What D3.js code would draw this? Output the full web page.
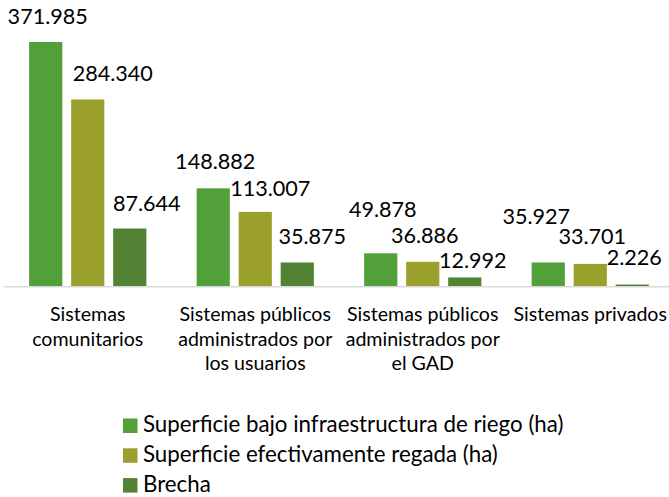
<!DOCTYPE html>
<html>
<head>
<meta charset="utf-8">
<script src="https://cdn.jsdelivr.net/npm/d3@7"></script>
<style>
  body { margin: 0; background: #fff; }
  text { font-family: Lato, "Open Sans", sans-serif; fill: #000; }
</style>
</head>
<body>
<svg id="chart"></svg>
<script>
const categories = [
  'Sistemas comunitarios',
  'Sistemas públicos administrados por los usuarios',
  'Sistemas públicos administrados por el GAD',
  'Sistemas privados'
];
// wrapped category labels, as they appear under the axis
const categoryLines = [
  ['Sistemas', 'comunitarios'],
  ['Sistemas públicos', 'administrados por', 'los usuarios'],
  ['Sistemas públicos', 'administrados por', 'el GAD'],
  ['Sistemas privados']
];
const series = [
  'Superficie bajo infraestructura de riego (ha)',
  'Superficie efectivamente regada (ha)',
  'Brecha'
];
const infraestructura = [371.985, 148.882, 49.878, 35.927];
const regada = [284.340, 113.007, 36.886, 33.701];
const brecha = [87.644, 35.875, 12.992, 2.226];
const values = [infraestructura, regada, brecha];

// labels were hand-moved in the original, [dx, dy] from bar centre / top
const labelNudge = [
  [[2, -18], [25, -18], [17, -18]],
  [[2, -19], [15, -16], [15, -18]],
  [[2, -36], [2, -19], [8, -9]],
  [[-12, -38], [2, -20], [2, -20]]
];

const colors = ['#52a03a', '#9aa02b', '#548235'];

const width = 669, height = 497;
const svg = d3.select('#chart').attr('width', width).attr('height', height);

const x0 = d3.scaleBand()
  .domain(categories)
  .range([4, 674])
  .paddingInner(0.3)
  .paddingOuter(0.15);

const x1 = d3.scaleBand()
  .domain(d3.range(series.length))
  .range([0, x0.bandwidth()])
  .paddingInner(0.21);

const y = d3.scaleLinear().domain([0, 400]).range([286, 23.6]);

const groups = svg.selectAll('g.group')
  .data(categories)
  .join('g')
  .attr('class', 'group')
  .attr('transform', d => 'translate(' + x0(d) + ',0)');

const bars = groups.selectAll('g.bar')
  .data((c, i) => series.map((s, j) => ({ s: j, c: i, v: values[j][i] })))
  .join('g')
  .attr('class', 'bar');

bars.append('rect')
  .attr('x', d => x1(d.s))
  .attr('y', d => y(d.v))
  .attr('width', x1.bandwidth())
  .attr('height', d => y(0) - y(d.v))
  .attr('fill', d => colors[d.s]);

bars.append('text')
  .attr('x', d => x1(d.s) + x1.bandwidth() / 2 + labelNudge[d.c][d.s][0])
  .attr('y', d => y(d.v) + labelNudge[d.c][d.s][1])
  .attr('text-anchor', 'middle')
  .attr('font-size', '21.6px')
  .text(d => d3.format(',.3f')(d.v).replace(/,/g, ''));

// axis baseline
svg.append('line')
  .attr('x1', 4).attr('x2', width)
  .attr('y1', y(0) + 0.75).attr('y2', y(0) + 0.75)
  .attr('stroke', '#d9d9d9')
  .attr('stroke-width', 1.5);

// category labels
svg.selectAll('text.cat')
  .data(categories)
  .join('text')
  .attr('class', 'cat')
  .attr('text-anchor', 'middle')
  .attr('font-size', '19.6px')
  .attr('transform', d => 'translate(' + (x0(d) + x0.bandwidth() / 2) + ',321)')
  .selectAll('tspan')
  .data((d, i) => categoryLines[i])
  .join('tspan')
  .attr('x', 0)
  .attr('y', (d, i) => i * 24.5)
  .text(d => d);

// legend
const legend = svg.append('g').attr('transform', 'translate(123,418.5)');
const items = legend.selectAll('g')
  .data(series)
  .join('g')
  .attr('transform', (d, i) => 'translate(0,' + i * 29.8 + ')');
items.append('rect')
  .attr('width', 14.5).attr('height', 14.5)
  .attr('fill', (d, i) => colors[i]);
items.append('text')
  .attr('x', 20)
  .attr('y', 13.8)
  .attr('font-size', '22.3px')
  .text(d => d);
</script>
</body>
</html>
